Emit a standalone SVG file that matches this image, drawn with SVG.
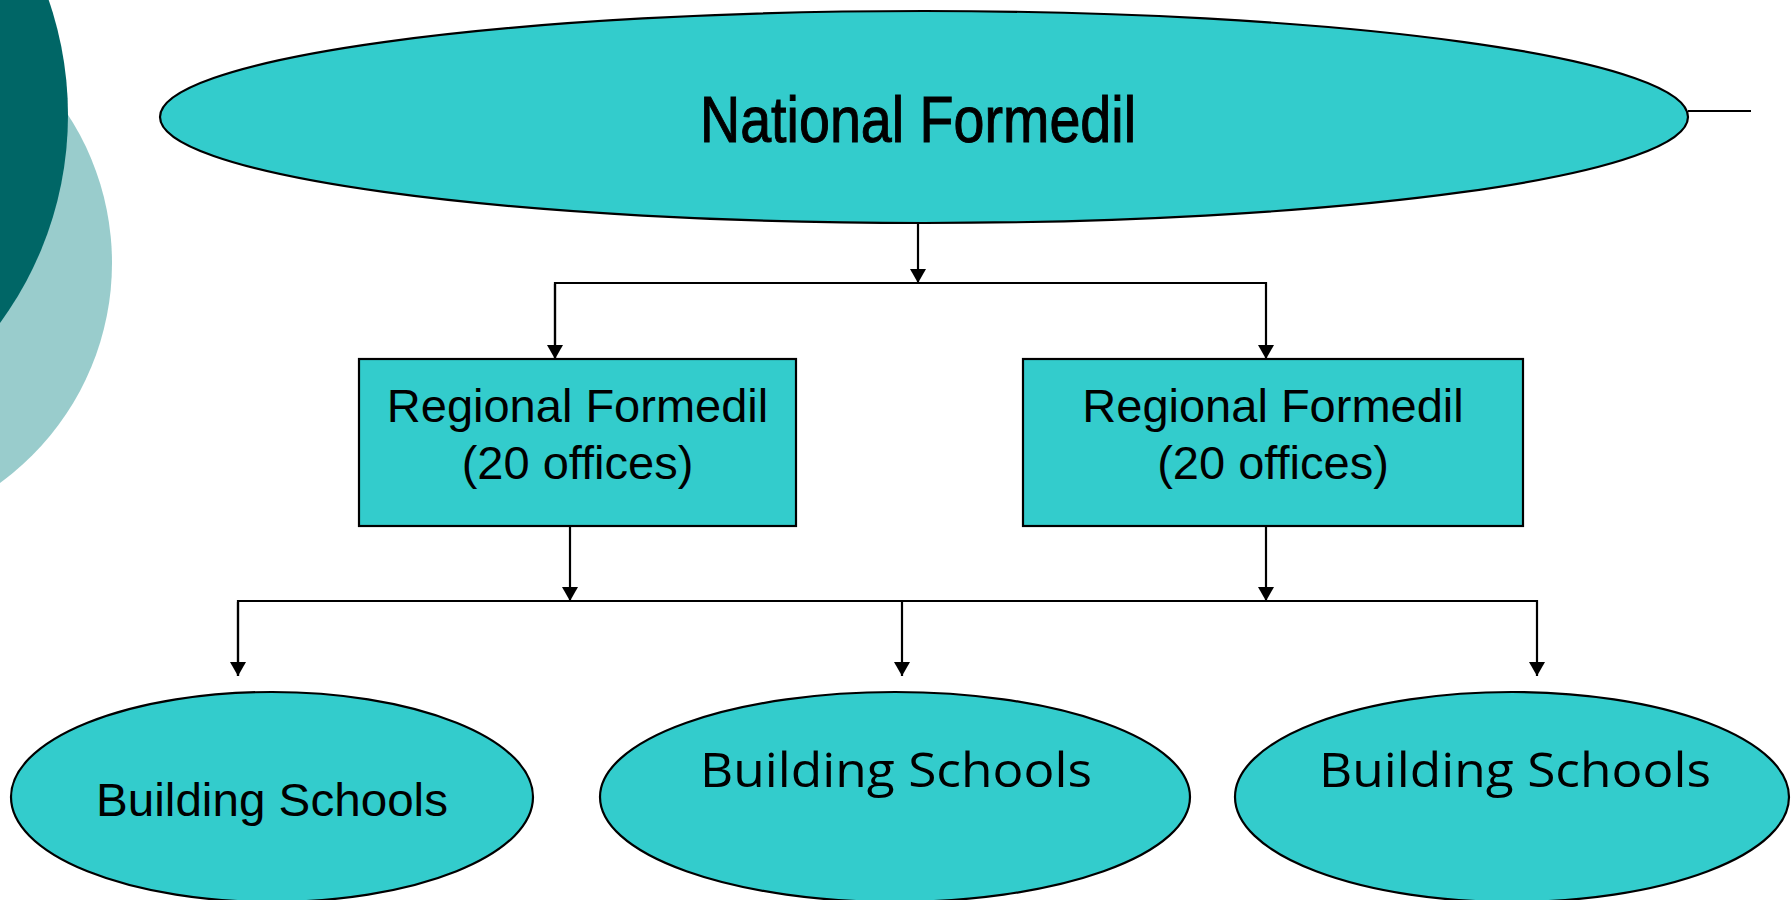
<svg xmlns="http://www.w3.org/2000/svg" width="1791" height="900" viewBox="0 0 1791 900">
<style>
.node{fill:#33CCCC;stroke:#000;stroke-width:2.2}
.conn{fill:none;stroke:#000;stroke-width:2.2}
.arial{font-family:"Liberation Sans",Arial,sans-serif;fill:#000}
.narrow{font-family:"Liberation Sans Narrow","Liberation Sans",Arial,sans-serif;fill:#000;stroke:#000;stroke-width:1}
.verd{font-family:"Open Sans","Noto Sans",sans-serif;fill:#000}
</style>
<defs>
<marker id="arr" viewBox="0 0 14 16" refX="14" refY="8" markerWidth="14" markerHeight="16" orient="auto" markerUnits="userSpaceOnUse">
<path d="M0,0 L14,8 L0,16 z" fill="#000"/>
</marker>
</defs>
<rect width="1791" height="900" fill="#fff"/>
<g id="background">
<circle cx="-160" cy="263" r="272" fill="#99CCCC"/>
<circle cx="-284" cy="115" r="352" fill="#006666"/>
</g>
<g id="connectors">
<line class="conn" x1="1688" y1="111" x2="1751" y2="111"/>
<line class="conn" x1="918" y1="223" x2="918" y2="283" marker-end="url(#arr)"/>
<polyline class="conn" points="555,359 555,283 1266,283 1266,359" marker-end="url(#arr)"/>
<line class="conn" x1="555" y1="284" x2="555" y2="359" marker-end="url(#arr)"/>
<line class="conn" x1="570" y1="526" x2="570" y2="601" marker-end="url(#arr)"/>
<line class="conn" x1="1266" y1="526" x2="1266" y2="601" marker-end="url(#arr)"/>
<polyline class="conn" points="238,676 238,601 1537,601 1537,676" marker-end="url(#arr)"/>
<line class="conn" x1="238" y1="602" x2="238" y2="676" marker-end="url(#arr)"/>
<line class="conn" x1="902" y1="601" x2="902" y2="676" marker-end="url(#arr)"/>
</g>
<g id="national">
<ellipse class="node" cx="924" cy="117" rx="764" ry="106"/>
<text class="narrow" x="918" y="142" font-size="64" text-anchor="middle" textLength="436" lengthAdjust="spacingAndGlyphs">National Formedil</text>
</g>
<g id="regional1">
<rect class="node" x="359" y="359" width="437" height="167"/>
<text class="arial" x="577.5" y="422" font-size="47" text-anchor="middle">Regional Formedil</text>
<text class="arial" x="577.5" y="479" font-size="47" text-anchor="middle">(20 offices)</text>
</g>
<g id="regional2">
<rect class="node" x="1023" y="359" width="500" height="167"/>
<text class="arial" x="1273" y="422" font-size="47" text-anchor="middle">Regional Formedil</text>
<text class="arial" x="1273" y="479" font-size="47" text-anchor="middle">(20 offices)</text>
</g>
<g id="school1">
<ellipse class="node" cx="272" cy="797" rx="261" ry="105"/>
<text class="arial" x="272" y="816" font-size="47" text-anchor="middle" textLength="352" lengthAdjust="spacingAndGlyphs">Building Schools</text>
</g>
<g id="school2">
<ellipse class="node" cx="895" cy="797" rx="295" ry="105"/>
<text class="verd" x="896" y="787" font-size="47" text-anchor="middle" textLength="392" lengthAdjust="spacingAndGlyphs">Building Schools</text>
</g>
<g id="school3">
<ellipse class="node" cx="1512" cy="797" rx="277" ry="105"/>
<text class="verd" x="1515" y="787" font-size="47" text-anchor="middle" textLength="392" lengthAdjust="spacingAndGlyphs">Building Schools</text>
</g>
</svg>
